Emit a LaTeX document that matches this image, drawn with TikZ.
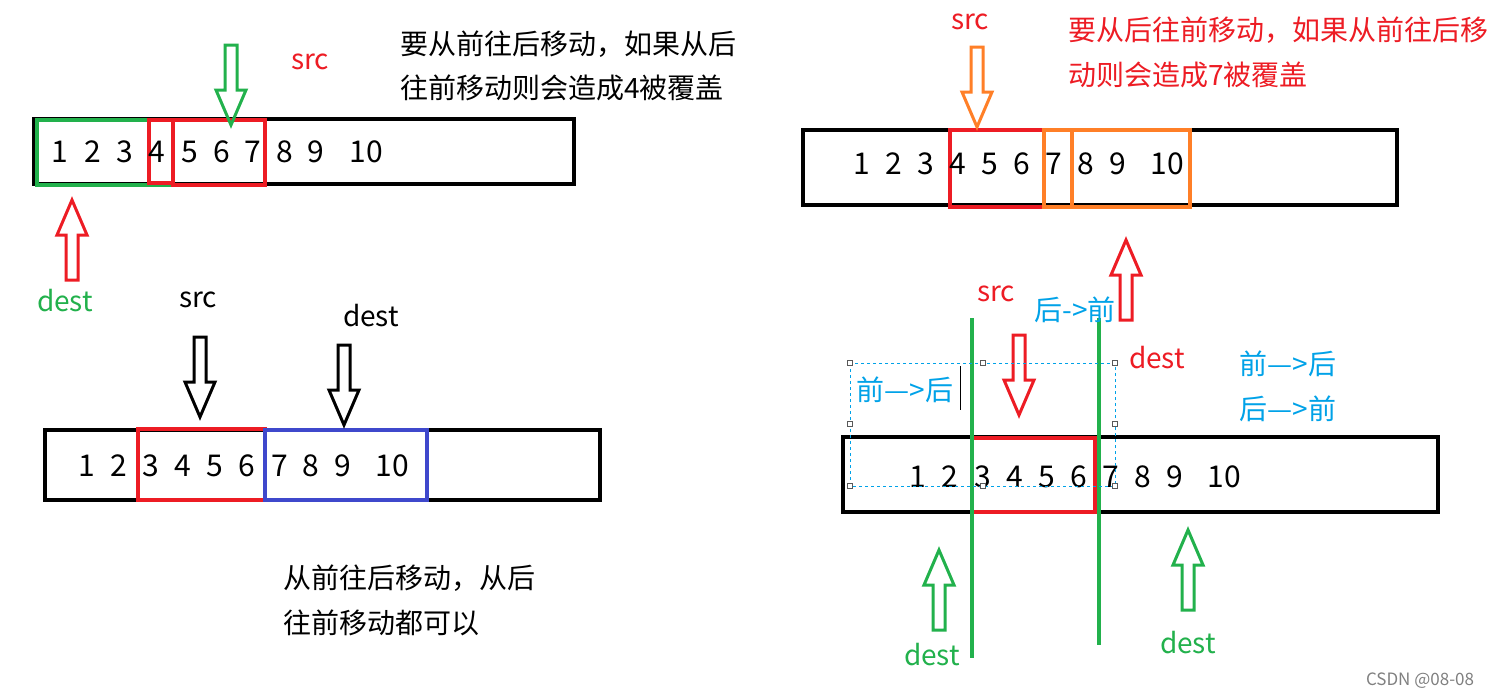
\documentclass[tikz,border=0pt]{standalone}
\usepackage{fontspec}
\setmainfont{Noto Sans CJK SC}
\definecolor{pr}{RGB}{237,28,36}
\definecolor{pg}{RGB}{34,177,76}
\definecolor{po}{RGB}{255,127,39}
\definecolor{pb}{RGB}{63,72,204}
\definecolor{pc}{RGB}{0,162,232}
\tikzset{
  arr/.style={line width=3pt,line join=miter},
  up/.pic={\draw[arr,pic actions] (-6,0) -- (-6,-45) -- (-15,-45) -- (0,-80) -- (15,-45) -- (6,-45) -- (6,0) -- cycle;},
  dn/.pic={\draw[arr,pic actions] (-6,0) -- (-6,45) -- (-15,45) -- (0,80) -- (15,45) -- (6,45) -- (6,0) -- cycle;},
  bar/.style={draw=black,line width=4pt},
  hl/.style={line width=3.5pt},
  dig/.style={font=\fontsize{30}{32}\selectfont,inner sep=0pt},
  zh/.style={font=\fontsize{28}{30}\selectfont,inner sep=0pt,anchor=west},
  lab/.style={font=\fontsize{28}{30}\selectfont,inner sep=0pt},
}
\begin{document}
\begin{tikzpicture}[x=1pt,y=-1pt]
\useasboundingbox[fill=white] (0,0) rectangle (1495,699);
% ---------- top-left
\node[draw,bar,minimum width=540,minimum height=65,inner sep=0pt] (b1) at (304,151.5) {};
\draw[pg,hl] (37,120) rectangle (173,185);
\draw[pr,hl] (149,120) rectangle (173,183);
\draw[pr,hl] (173,120) rectangle (265,185);
\foreach \t/\x in {1/60,2/93,3/125,4/157,5/190,6/222,7/253,8/285,9/316,10/366}
  \node[dig] (t\t) at (\x,152) {\t};
\pic[draw=pg] (ga) at (231,45) {dn};
\node[lab,pr] (s1) at (310,62) {src};
\node[zh] (z1) at (400,44) {要从前往后移动，如果从后};
\node[zh] (z2) at (400,88) {往前移动则会造成4被覆盖};
\pic[draw=pr] (ra) at (72,280) {up};
\node[lab,pg] (d1) at (65,301) {dest};
% ---------- bottom-left
\node[draw,bar,minimum width=555,minimum height=70,inner sep=0pt] (b2) at (322.5,465) {};
\draw[pr,hl] (138,429) rectangle (265,500);
\draw[pb,hl] (265,430) rectangle (427,500);
\foreach \t/\x in {1/87,2/119,3/151,4/183,5/215,6/247,7/280,8/311,9/343,10/392}
  \node[dig] (u\t) at (\x,466) {\t};
\node[lab] (s2) at (198,300) {src};
\pic[draw=black] (ka) at (200,337) {dn};
\node[lab] (d2) at (371,316) {dest};
\pic[draw=black] (kb) at (344,345) {dn};
\node[zh] (z3) at (283,578) {从前往后移动，从后};
\node[zh] (z4) at (283,623) {往前移动都可以};
% ---------- top-right
\node[draw,bar,minimum width=594,minimum height=75,inner sep=0pt] (b3) at (1100,167.5) {};
\draw[pr,hl] (950,130) rectangle (1072,207);
\draw[po,hl] (1044,130) rectangle (1190,207);
\draw[po,hl] (1044,130) rectangle (1072,207);
\foreach \t/\x in {1/862,2/894,3/926,4/958,5/990,6/1022,7/1054,8/1086,9/1118,10/1167}
  \node[dig] (v\t) at (\x,164) {\t};
\node[lab,pr] (s3) at (970,22) {src};
\pic[draw=po] (oa) at (977,47) {dn};
\node[zh,pr] (z5) at (1068,30) {要从后往前移动，如果从前往后移};
\node[zh,pr] (z6) at (1068,75) {动则会造成7被覆盖};
\pic[draw=pr] (rb) at (1126,320) {up};
% ---------- bottom-right
\node[draw,bar,minimum width=595,minimum height=75,inner sep=0pt] (b4) at (1140.5,474.5) {};
\draw[pr,hl] (972,438) rectangle (1095,512);
\foreach \t/\x in {1/918,2/950,3/983,4/1015,5/1047,6/1079,7/1111,8/1143,9/1175,10/1224}
  \node[dig] (w\t) at (\x,477) {\t};
\coordinate (g1a) at (972,318); \coordinate (g1b) at (972,658);
\coordinate (g2a) at (1099,318); \coordinate (g2b) at (1099,645);
\draw[pg,line width=3.5pt] (g1a) -- (g1b);
\draw[pg,line width=3.5pt] (g2a) -- (g2b);
\node[lab,pr] (s4) at (996,294) {src};
\node[lab,pc] (h1) at (1075,310) {后->前};
\pic[draw=pr] (rc) at (1019,335) {dn};
\node[lab,pr] (d4) at (1157,358) {dest};
\draw[pc,dashed,line width=0.7pt] (850,363) rectangle (1115,486);
\foreach \p in {(850,363),(983,363),(1115,363),(850,424),(1115,424),(850,486),(983,486),(1115,486)}
  \draw[gray!70!black,fill=white,line width=0.6pt] \p ++(-2.5,-2.5) rectangle ++(5,5);
\node[lab,pc] (h2) at (905,390) {前—>后};
\coordinate (ca) at (960,366); \coordinate (cb) at (960,410);
\draw[line width=1pt] (ca) -- (cb);
\node[lab,pc] (h3) at (1288,364) {前—>后};
\node[lab,pc] (h4) at (1288,409) {后—>前};
\pic[draw=pg] (gb) at (939,630) {up};
\pic[draw=pg] (gc) at (1188,610) {up};
\node[lab,pg] (d5) at (932,655) {dest};
\node[lab,pg] (d6) at (1188,643) {dest};
\node[font=\fontsize{17}{19}\selectfont,gray,inner sep=0pt] (cs) at (1420,681) {CSDN @08-08};
\end{tikzpicture}
\end{document}
